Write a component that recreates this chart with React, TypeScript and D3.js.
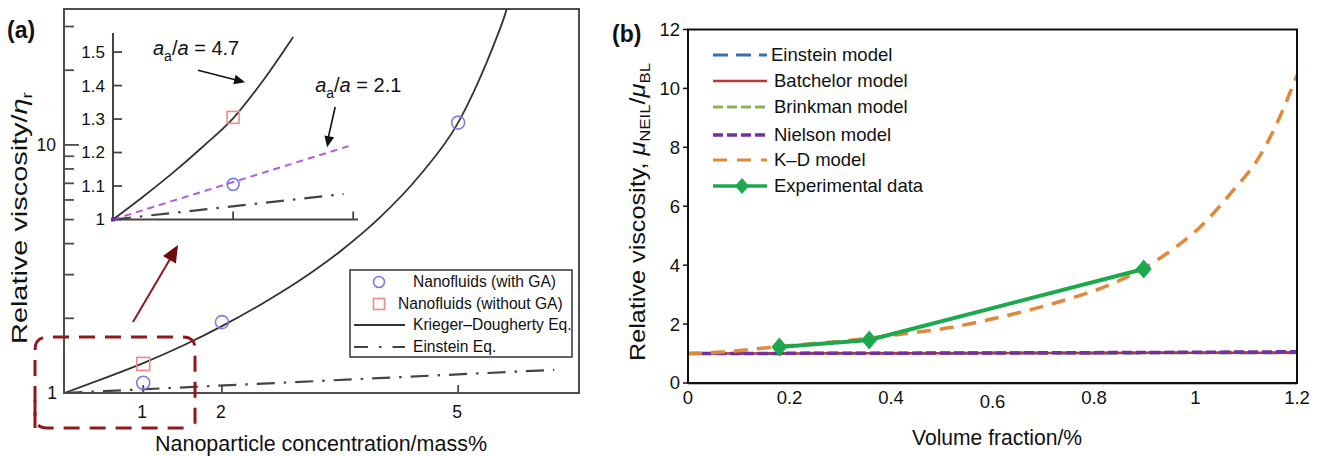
import React from 'react';
import * as d3 from 'd3';

// ---------- Panel (a): relative viscosity vs nanoparticle mass concentration ----------
const massTicks = [1, 2, 5];
const viscMinorTicks = [2, 3, 4, 5, 6, 7, 8, 9, 20, 30];
const viscLabelTicks = [1, 10];

const kdConc = [0, 0.5, 1, 1.5, 2, 2.5, 3, 3.5, 4, 4.5, 5, 5.25, 5.45, 5.6, 5.65];
const kdVisc = [1, 1.145, 1.32, 1.55, 1.86, 2.28, 2.86, 3.72, 5.08, 7.46, 12.3, 17.8, 25.2, 33.9, 38.4];
const einsteinConc = [0, 6.22];
const einsteinVisc = [1, 1.24];
const withGAConc = [1, 2, 5];
const withGAVisc = [1.1, 1.93, 12.3];
const withoutGAConc = [1];
const withoutGAVisc = [1.31];

// Inset (zoom of the low-concentration region)
const insetXTicks = [1, 2];
const insetYTicks = [1, 1.1, 1.2, 1.3, 1.4, 1.5];
const insetYLabels = ['1', '1.1', '1.2', '1.3', '1.4', '1.5'];
const inset47Conc = [0, 0.25, 0.5, 0.75, 1, 1.25, 1.5];
const inset47Visc = [1, 1.068, 1.14, 1.218, 1.302, 1.415, 1.545];
const inset21Conc = [0, 1.96];
const inset21Visc = [1, 1.219];
const insetEinConc = [0, 1.92];
const insetEinVisc = [1, 1.076];
const insetWithGAConc = [1];
const insetWithGAVisc = [1.105];
const insetWithoutGAConc = [1];
const insetWithoutGAVisc = [1.305];

const legendA = ['Nanofluids (with GA)', 'Nanofluids (without GA)', 'Krieger\u2013Dougherty Eq.', 'Einstein Eq.'];

// ---------- Panel (b): relative viscosity vs volume fraction ----------
const phi = [0, 0.2, 0.4, 0.6, 0.8, 1.0, 1.2];
const einsteinModel = [1, 1.005, 1.01, 1.015, 1.02, 1.025, 1.03];
const batchelorModel = [1, 1.005, 1.01, 1.015, 1.02, 1.026, 1.032];
const brinkmanModel = [1, 1.005, 1.01, 1.016, 1.021, 1.026, 1.032];
const nielsonModel = [1, 1.006, 1.012, 1.02, 1.03, 1.044, 1.06];
const kdPhi = [0, 0.07, 0.156, 0.26, 0.31, 0.43, 0.53, 0.59, 0.72, 0.84, 0.89, 0.96, 1.0, 1.07, 1.13, 1.16, 1.2];
const kdModel = [1, 1.05, 1.2, 1.36, 1.43, 1.68, 1.92, 2.14, 2.7, 3.4, 3.82, 4.6, 5.15, 6.45, 7.8, 8.8, 10.45];
const expPhi = [0.18, 0.357, 0.898];
const expVisc = [1.22, 1.46, 3.87];

const bYTicks = [0, 2, 4, 6, 8, 10, 12];
const bXTicks = [0, 0.2, 0.4, 0.6, 0.8, 1, 1.2];
const bXLabels = ['0', '0.2', '0.4', '0.6', '0.8', '1', '1.2'];
const legendB = ['Einstein model', 'Batchelor model', 'Brinkman model', 'Nielson model', 'K\u2013D model', 'Experimental data'];

const FONT = "'Liberation Sans', Arial, Helvetica, sans-serif";

const zip = (xs: number[], ys: number[]) => xs.map((x, i) => [x, ys[i]] as [number, number]);

function arrowHead(x1: number, y1: number, x2: number, y2: number, len: number, half: number) {
  const a = Math.atan2(y2 - y1, x2 - x1);
  const bx = x2 - len * Math.cos(a);
  const by = y2 - len * Math.sin(a);
  const px = -Math.sin(a) * half;
  const py = Math.cos(a) * half;
  return `${x2},${y2} ${bx + px},${by + py} ${bx - px},${by - py}`;
}

export default function App() {
  // Panel (a) scales
  const xA = d3.scaleLinear().domain([0, 6.535]).range([64.5, 579]);
  const yA = d3.scaleLog().domain([1, 35.3]).range([393, 9]);
  const lineA = d3.line<[number, number]>().x(d => xA(d[0])).y(d => yA(d[1])).curve(d3.curveMonotoneX);

  // Inset scales
  const xI = d3.scaleLinear().domain([0, 2.04]).range([113, 358]);
  const yI = d3.scaleLinear().domain([1, 1.557]).range([219.5, 33]);
  const lineI = d3.line<[number, number]>().x(d => xI(d[0])).y(d => yI(d[1])).curve(d3.curveMonotoneX);

  // Panel (b) scales
  const xB = d3.scaleLinear().domain([0, 1.2]).range([688, 1297]);
  const yB = d3.scaleLinear().domain([0, 12]).range([383, 29.5]);
  const lineB = d3.line<[number, number]>().x(d => xB(d[0])).y(d => yB(d[1])).curve(d3.curveMonotoneX);
  const lineBStraight = d3.line<[number, number]>().x(d => xB(d[0])).y(d => yB(d[1]));

  const circleColor = '#7b7bec';
  const squareColor = '#f08a8a';
  const darkRed = '#8e1a1e';

  const ann1 = [xI(0.708), yI(1.446), xI(1.1), yI(1.41)];
  const ann2 = [xI(1.85), yI(1.336), xI(1.783), yI(1.216)];
  const bigArrow = [133, 322, 178, 245];

  const legBY = [55, 81, 107, 135, 160, 186];
  const legBStyles = [
    { stroke: '#3b6fb3', dash: '15 8', width: 3 },
    { stroke: '#b1393a', dash: undefined, width: 2.5 },
    { stroke: '#8db24e', dash: '10 4', width: 3 },
    { stroke: '#7231a3', dash: '10 4', width: 3.5 },
    { stroke: '#e0883b', dash: '14 10', width: 3 },
    { stroke: '#1ca84c', dash: undefined, width: 3.5 },
  ];

  const diamond = (cx: number, cy: number, w: number, h: number) =>
    `${cx},${cy - h} ${cx + w},${cy} ${cx},${cy + h} ${cx - w},${cy}`;

  return (
    <svg width={1320} height={456} style={{ position: 'absolute', left: 0, top: 0, background: '#fff' }} fontFamily={FONT}>
      <defs>
        <clipPath id="clipA"><rect x={64} y={9} width={515} height={384} /></clipPath>
        <clipPath id="clipB"><rect x={688} y={29.5} width={609} height={353.5} /></clipPath>
      </defs>
      <rect x={0} y={0} width={1320} height={456} fill="#fff" />

      {/* ===== Panel (a) ===== */}
      <text x={7} y={38} fontSize={23} fontWeight="bold" fill="#111">(a)</text>

      {/* frame */}
      <rect x={64} y={9} width={515} height={384} fill="none" stroke="#4d4d4d" strokeWidth={2} />

      {/* y ticks (log) */}
      {viscMinorTicks.map(v => (
        <line key={'ym' + v} x1={64} x2={74} y1={yA(v)} y2={yA(v)} stroke="#4d4d4d" strokeWidth={1.8} />
      ))}
      <line x1={64} x2={79} y1={yA(10)} y2={yA(10)} stroke="#4d4d4d" strokeWidth={1.8} />
      {viscLabelTicks.map(v => (
        <text key={'yl' + v} x={v === 10 ? 56 : 57} y={yA(v)} dy="0.35em" textAnchor="end" fontSize={17.5} fill="#111">{v}</text>
      ))}

      {/* x ticks */}
      {massTicks.map(v => (
        <g key={'xt' + v}>
          <line x1={xA(v)} x2={xA(v)} y1={393} y2={385} stroke="#4d4d4d" strokeWidth={1.8} />
          <text x={xA(v) - 1} y={412} dy="0.35em" textAnchor="middle" fontSize={17.5} fill="#111">{v}</text>
        </g>
      ))}

      {/* axis titles */}
      <text x={321} y={451} textAnchor="middle" fontSize={22} fill="#111" textLength={332} lengthAdjust="spacingAndGlyphs">Nanoparticle concentration/mass%</text>
      <text transform="translate(27,218) rotate(-90)" textAnchor="middle" fontSize={22.5} fill="#111" textLength={252} lengthAdjust="spacingAndGlyphs">
        Relative viscosity/<tspan fontStyle="italic">η</tspan><tspan fontSize={15} dy={5}>r</tspan>
      </text>

      {/* main curves */}
      <g clipPath="url(#clipA)">
        <path d={lineA(zip(kdConc, kdVisc)) || ''} fill="none" stroke="#333" strokeWidth={1.8} />
        <path d={lineA(zip(einsteinConc, einsteinVisc)) || ''} fill="none" stroke="#444" strokeWidth={2.2} strokeDasharray="18 9 2.5 9" />
      </g>

      {/* measured points */}
      {withGAConc.map((c, i) => (
        <circle key={'ga' + i} cx={xA(c)} cy={yA(withGAVisc[i])} r={6.5} fill="none" stroke={circleColor} strokeWidth={1.6} />
      ))}
      {withoutGAConc.map((c, i) => (
        <rect key={'ng' + i} x={xA(c) - 6.5} y={yA(withoutGAVisc[i]) - 6.5} width={13} height={13} fill="none" stroke={squareColor} strokeWidth={1.6} />
      ))}

      {/* highlighted region and pointer to inset */}
      <path d="M35,428 L35,350 Q35,337 48,337 L183,337 Q195,337 195,349 L195,428"
        fill="none" stroke={darkRed} strokeWidth={3} strokeDasharray="16 10" />
      <path d="M35,400 L35,416 Q35,428 47,428 L185,428" fill="none" stroke={darkRed} strokeWidth={3} strokeDasharray="16 10" />
      <line x1={bigArrow[0]} y1={bigArrow[1]} x2={bigArrow[2] - 5} y2={bigArrow[3] + 9} stroke={darkRed} strokeWidth={2} />
      <polygon points={arrowHead(bigArrow[0], bigArrow[1], bigArrow[2], bigArrow[3], 17, 7.5)} fill="#6e0a0e" />

      {/* inset axes */}
      <line x1={xI(0)} x2={xI(0)} y1={yI(1)} y2={33} stroke="#444" strokeWidth={2} />
      <line x1={xI(0)} x2={358} y1={yI(1)} y2={yI(1)} stroke="#444" strokeWidth={2} />
      {insetYTicks.map((v, i) => (
        <g key={'iy' + v}>
          <line x1={xI(0)} x2={xI(0) + 9} y1={yI(v)} y2={yI(v)} stroke="#444" strokeWidth={1.8} />
          <text x={105} y={yI(v)} dy="0.35em" textAnchor="end" fontSize={17} fill="#111">{insetYLabels[i]}</text>
        </g>
      ))}
      {insetXTicks.map(v => (
        <line key={'ix' + v} x1={xI(v)} x2={xI(v)} y1={yI(1)} y2={yI(1) - 8} stroke="#444" strokeWidth={1.8} />
      ))}

      {/* inset curves */}
      <path d={lineI(zip(insetEinConc, insetEinVisc)) || ''} fill="none" stroke="#444" strokeWidth={2.2} strokeDasharray="18 9 2.5 9" />
      <path d={lineI(zip(inset21Conc, inset21Visc)) || ''} fill="none" stroke="#b05ee0" strokeWidth={2} strokeDasharray="7 5" />
      <path d={lineI(zip(inset47Conc, inset47Visc)) || ''} fill="none" stroke="#333" strokeWidth={1.8} />
      {insetWithGAConc.map((c, i) => (
        <circle key={'iga' + i} cx={xI(c)} cy={yI(insetWithGAVisc[i])} r={6} fill="none" stroke={circleColor} strokeWidth={1.6} />
      ))}
      {insetWithoutGAConc.map((c, i) => (
        <rect key={'ing' + i} x={xI(c) - 6} y={yI(insetWithoutGAVisc[i]) - 6} width={12} height={12} fill="none" stroke={squareColor} strokeWidth={1.6} />
      ))}
      <rect x={xI(0) - 2} y={yI(1) - 2} width={4} height={4} fill="#6a2aa0" />

      {/* inset annotations */}
      <text x={xI(0.333)} y={yI(1.491)} fontSize={20} fill="#111">
        <tspan fontStyle="italic">a</tspan><tspan fontSize={14} dy={6}>a</tspan><tspan dy={-6}>/</tspan><tspan fontStyle="italic">a</tspan> = 4.7
      </text>
      <line x1={ann1[0]} y1={ann1[1]} x2={ann1[2] - 8} y2={ann1[3] - 2} stroke="#111" strokeWidth={1.6} />
      <polygon points={arrowHead(ann1[0], ann1[1], ann1[2], ann1[3], 11, 5)} fill="#111" />
      <text x={xI(1.683)} y={yI(1.381)} fontSize={20} fill="#111">
        <tspan fontStyle="italic">a</tspan><tspan fontSize={14} dy={6}>a</tspan><tspan dy={-6}>/</tspan><tspan fontStyle="italic">a</tspan> = 2.1
      </text>
      <line x1={ann2[0]} y1={ann2[1]} x2={ann2[2] + 1} y2={ann2[3] - 9} stroke="#111" strokeWidth={1.6} />
      <polygon points={arrowHead(ann2[0], ann2[1], ann2[2], ann2[3], 11, 5)} fill="#111" />

      {/* legend (a) */}
      <rect x={350} y={270} width={222} height={87} fill="#fff" stroke="#333" strokeWidth={1.5} />
      <circle cx={379} cy={282} r={5.5} fill="none" stroke={circleColor} strokeWidth={1.6} />
      <rect x={373.5} y={298.5} width={11} height={11} fill="none" stroke={squareColor} strokeWidth={1.6} />
      <line x1={354} x2={405} y1={325} y2={325} stroke="#333" strokeWidth={2} />
      <line x1={354} x2={405} y1={347} y2={347} stroke="#444" strokeWidth={2.2} strokeDasharray="14 11 2.5 11" />
      <text x={413} y={282} dy="0.35em" fontSize={15.6} fill="#111">{legendA[0]}</text>
      <text x={398} y={304} dy="0.35em" fontSize={15.6} fill="#111">{legendA[1]}</text>
      <text x={413} y={325} dy="0.35em" fontSize={15.6} fill="#111">{legendA[2]}</text>
      <text x={413} y={347} dy="0.35em" fontSize={15.6} fill="#111">{legendA[3]}</text>

      {/* ===== Panel (b) ===== */}
      <text x={612} y={42} fontSize={23} fontWeight="bold" fill="#111">(b)</text>

      {/* model curves */}
      <g clipPath="url(#clipB)">
        <path d={lineB(zip(phi, einsteinModel)) || ''} fill="none" stroke={legBStyles[0].stroke} strokeWidth={3} strokeDasharray="15 8" />
        <path d={lineB(zip(phi, brinkmanModel)) || ''} fill="none" stroke={legBStyles[2].stroke} strokeWidth={3} strokeDasharray="10 4" />
        <path d={lineB(zip(phi, batchelorModel)) || ''} fill="none" stroke={legBStyles[1].stroke} strokeWidth={2.5} />
        <path d={lineB(zip(phi, nielsonModel)) || ''} fill="none" stroke={legBStyles[3].stroke} strokeWidth={3.5} strokeDasharray="10 4" />
        <path d={lineB(zip(kdPhi, kdModel)) || ''} fill="none" stroke={legBStyles[4].stroke} strokeWidth={3.5} strokeDasharray="14 9" />
        <path d={lineBStraight(zip(expPhi, expVisc)) || ''} fill="none" stroke={legBStyles[5].stroke} strokeWidth={4} />
        {expPhi.map((p, i) => (
          <polygon key={'ed' + i} points={diamond(xB(p), yB(expVisc[i]), 8, 9.5)} fill={legBStyles[5].stroke} />
        ))}
      </g>

      {/* frame */}
      <rect x={688} y={29.5} width={609} height={353.5} fill="none" stroke="#111" strokeWidth={2} />
      <line x1={688} x2={1297} y1={384.5} y2={384.5} stroke="#bbb" strokeWidth={1} />

      {/* axes ticks and labels */}
      {bYTicks.map(v => (
        <g key={'by' + v}>
          <line x1={683} x2={688} y1={yB(v)} y2={yB(v)} stroke="#111" strokeWidth={1.5} />
          <text x={680} y={yB(v)} dy="0.35em" textAnchor="end" fontSize={18.5} fill="#111">{v}</text>
        </g>
      ))}
      {bXTicks.map((v, i) => (
        <text key={'bx' + v} x={xB(v)} y={v === 0.6 ? 402 : 398} dy="0.35em" textAnchor="middle" fontSize={18.5} fill="#111">{bXLabels[i]}</text>
      ))}

      <text x={997} y={445} textAnchor="middle" fontSize={22} fill="#111" textLength={170} lengthAdjust="spacingAndGlyphs">Volume fraction/%</text>
      <text transform="translate(645,212) rotate(-90)" textAnchor="middle" fontSize={22.5} fill="#111" textLength={298} lengthAdjust="spacingAndGlyphs">
        Relative viscosity, <tspan fontStyle="italic">μ</tspan><tspan fontSize={15} dy={5}>NEIL</tspan><tspan dy={-5}>/</tspan><tspan fontStyle="italic">μ</tspan><tspan fontSize={15} dy={5}>BL</tspan>
      </text>

      {/* legend (b) */}
      {legendB.map((name, i) => (
        <g key={'lb' + i}>
          <line x1={713} x2={767} y1={legBY[i]} y2={legBY[i]} stroke={legBStyles[i].stroke}
            strokeWidth={legBStyles[i].width} strokeDasharray={legBStyles[i].dash} />
          {i === 5 && <polygon points={diamond(742, legBY[i], 7, 8)} fill={legBStyles[5].stroke} />}
          <text x={i === 0 ? 771 : 774} y={legBY[i]} dy="0.35em" fontSize={18.5} fill="#111">{name}</text>
        </g>
      ))}
    </svg>
  );
}
